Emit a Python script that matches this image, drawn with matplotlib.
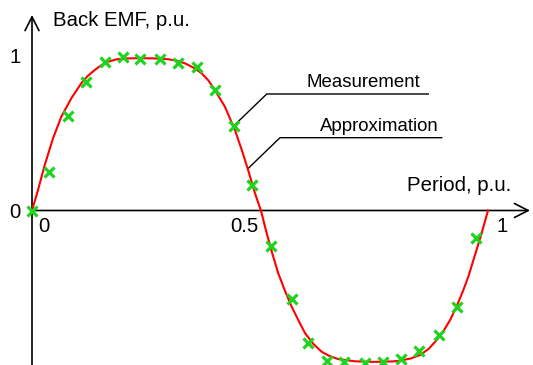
import matplotlib
matplotlib.use("Agg")
import matplotlib.pyplot as plt

plt.rcParams['font.family'] = ['Liberation Sans', 'DejaVu Sans']

# Approximation curve (period in p.u., back EMF in p.u.)
curve_t = [0.0, 0.0132, 0.0279, 0.0461, 0.0643, 0.0862, 0.108, 0.1225, 0.1375,
           0.152, 0.1667, 0.185, 0.203, 0.232, 0.265, 0.299, 0.318, 0.3355,
           0.354, 0.372, 0.387, 0.401, 0.423, 0.445, 0.460, 0.474, 0.489, 0.502,
           0.5147, 0.527, 0.540, 0.555, 0.5695, 0.585, 0.599, 0.617, 0.635,
           0.652, 0.672, 0.708, 0.75, 0.79, 0.807, 0.83, 0.851, 0.87, 0.8875,
           0.903, 0.917, 0.932, 0.946, 0.958, 0.968, 0.977, 0.986, 1.0]
curve_y = [0.0, 0.135, 0.299, 0.475, 0.617, 0.738, 0.837, 0.886, 0.924,
           0.956, 0.979, 0.994, 1.0, 1.002, 1.001, 0.995, 0.985, 0.968,
           0.940, 0.903, 0.855, 0.793, 0.683, 0.530, 0.398, 0.266, 0.113, 0.0,
           -0.150, -0.283, -0.413, -0.530, -0.633, -0.727, -0.808, -0.878, -0.929,
           -0.957, -0.978, -0.992, -0.996, -0.993, -0.988, -0.974, -0.951, -0.910, -0.852,
           -0.790, -0.720, -0.625, -0.523, -0.425, -0.326, -0.238, -0.150, 0.0]

# Measured points
meas_t = [0.0, 0.0366, 0.0789, 0.1177, 0.1594, 0.1996, 0.2368, 0.2807, 0.3195,
          0.361, 0.401, 0.443, 0.483, 0.524, 0.5695, 0.606, 0.646, 0.685,
          0.730, 0.770, 0.809, 0.849, 0.8925, 0.931, 0.9737]
meas_y = [0.0, 0.256, 0.624, 0.847, 0.975, 1.008, 0.997, 0.997, 0.968,
          0.942, 0.793, 0.558, 0.170, -0.234, -0.580, -0.870, -0.988, -0.999,
          -1.001, -0.995, -0.979, -0.922, -0.819, -0.637, -0.179]

x_tick_labels = ["0", "0.5", "1"]
y_tick_labels = ["0", "1"]

W, H = 533, 365
fig = plt.figure(figsize=(W / 100, H / 100), dpi=100)
ax = fig.add_axes([0, 0, 1, 1])

# pixel mapping helpers (layout only)
X0, XS = 32.0, 456.0
Y0, YS = 210.5, 152.0
def px(x):
    return (x - X0) / XS
def py(y):
    return (Y0 - y) / YS

ax.set_xlim(px(0), px(W))
ax.set_ylim(py(H), py(0))
ax.axis('off')

# axes with arrows
arrow = dict(arrowstyle='->,head_length=0.55,head_width=0.28', color='black',
             lw=1.2, shrinkA=0, shrinkB=0, mutation_scale=18)
ax.annotate('', xy=(px(530), 0), xytext=(0, 0), arrowprops=arrow)
ax.annotate('', xy=(0, py(15)), xytext=(0, py(H)), arrowprops=arrow)

# curve and measurements
ax.plot(curve_t, curve_y, color='#ff0000', lw=1.5, zorder=3)
ax.plot(meas_t, meas_y, linestyle='none', marker='x', color='#1fd41f',
        markersize=6.8, markeredgewidth=2.3, zorder=4)

fs_axis = 14.7
fs_ann = 13.4
ax.text(px(53), py(26), "Back EMF, p.u.", fontsize=fs_axis, ha='left', va='baseline')
ax.text(px(406.7), py(190.7), "Period, p.u.", fontsize=fs_axis, ha='left', va='baseline')

# tick labels
ax.text(px(43.8), py(232.3), x_tick_labels[0], fontsize=fs_axis, ha='center', va='baseline')
ax.text(px(244), py(232.3), x_tick_labels[1], fontsize=fs_axis, ha='center', va='baseline')
ax.text(px(501.7), py(232.3), x_tick_labels[2], fontsize=fs_axis, ha='center', va='baseline')
ax.text(px(14.7), py(218.3), y_tick_labels[0], fontsize=fs_axis, ha='center', va='baseline')
ax.text(px(15.0), py(63.3), y_tick_labels[1], fontsize=fs_axis, ha='center', va='baseline')

# annotations
ax.plot([px(234.3), px(266.7), px(428.3)], [py(125.3), py(94), py(94)],
        color='black', lw=1.0, zorder=2)
ax.plot([px(248.3), px(280), px(441.7)], [py(168.3), py(137.7), py(137.7)],
        color='black', lw=1.0, zorder=2)
ax.text(px(306.7), py(87.3), "Measurement", fontsize=fs_ann, ha='left', va='baseline')
ax.text(px(320), py(130.7), "Approximation", fontsize=fs_ann, ha='left', va='baseline')

fig.savefig('out.png', dpi=100)
